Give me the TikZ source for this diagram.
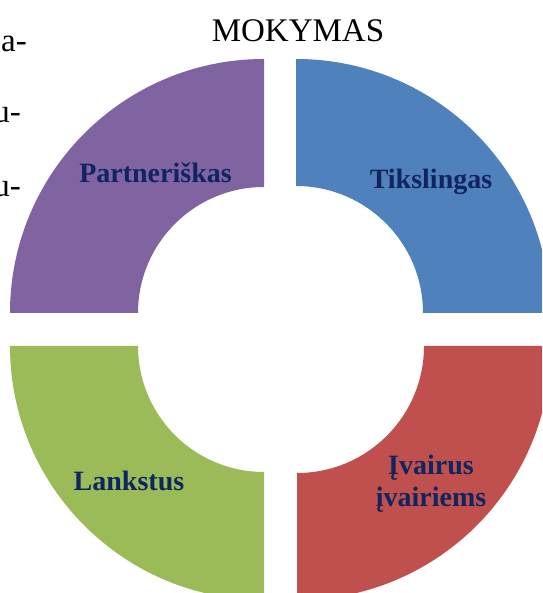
\documentclass[tikz,border=0pt]{standalone}
\usepackage{fontspec}
\setmainfont{Liberation Serif}
\definecolor{segpurple}{HTML}{8064A2}
\definecolor{segblue}{HTML}{4F81BD}
\definecolor{seggreen}{HTML}{9BBB59}
\definecolor{segred}{HTML}{C0504D}
\definecolor{labnavy}{RGB}{16,37,96}
\tikzset{
  seglabel/.style={inner sep=0pt, anchor=base, text=labnavy, font=\fontsize{28}{32}\selectfont\bfseries, align=center},
  titletext/.style={inner sep=0pt, anchor=base, font=\fontsize{33}{38}\selectfont},
  sidetext/.style={inner sep=0pt, anchor=base east, font=\fontsize{33}{38}\selectfont},
}
\begin{document}
\begin{tikzpicture}[x=1pt,y=1pt]
\useasboundingbox (0,0) rectangle (542,593);
\begin{scope}
\clip (0,0) rectangle (542,593);
% purple (top-left)
\fill[segpurple] (264,534) arc[start angle=90,end angle=180,radius=254] -- (138,280) arc[start angle=180,end angle=90,radius=126] -- cycle;
% blue (top-right)
\fill[segblue] (296,534) arc[start angle=90,end angle=0,radius=254] -- (423,280) arc[start angle=0,end angle=90,radius=127] -- cycle;
% green (bottom-left)
\fill[seggreen] (10,247) arc[start angle=180,end angle=270,radius=254] -- (264,121) arc[start angle=270,end angle=180,radius=126] -- cycle;
% red (bottom-right)
\fill[segred] (297,-7) arc[start angle=270,end angle=360,radius=254] -- (424,247) arc[start angle=0,end angle=-90,radius=127] -- cycle;
\end{scope}
\node[titletext] (title) at (298,551) {MOKYMAS};
\node[sidetext] (s1) at (27,541) {pa-};
\node[sidetext] (s2) at (21,470) {u-};
\node[sidetext] (s3) at (21,396) {u-};
\node[seglabel] (lp) at (155.5,410) {Partneriškas};
\node[seglabel] (lb) at (431,404) {Tikslingas};
\node[seglabel] (lg) at (129,102) {Lankstus};
\node[seglabel] (lr1) at (431,118) {Įvairus};
\node[seglabel] (lr2) at (431,86) {įvairiems};
\end{tikzpicture}
\end{document}
